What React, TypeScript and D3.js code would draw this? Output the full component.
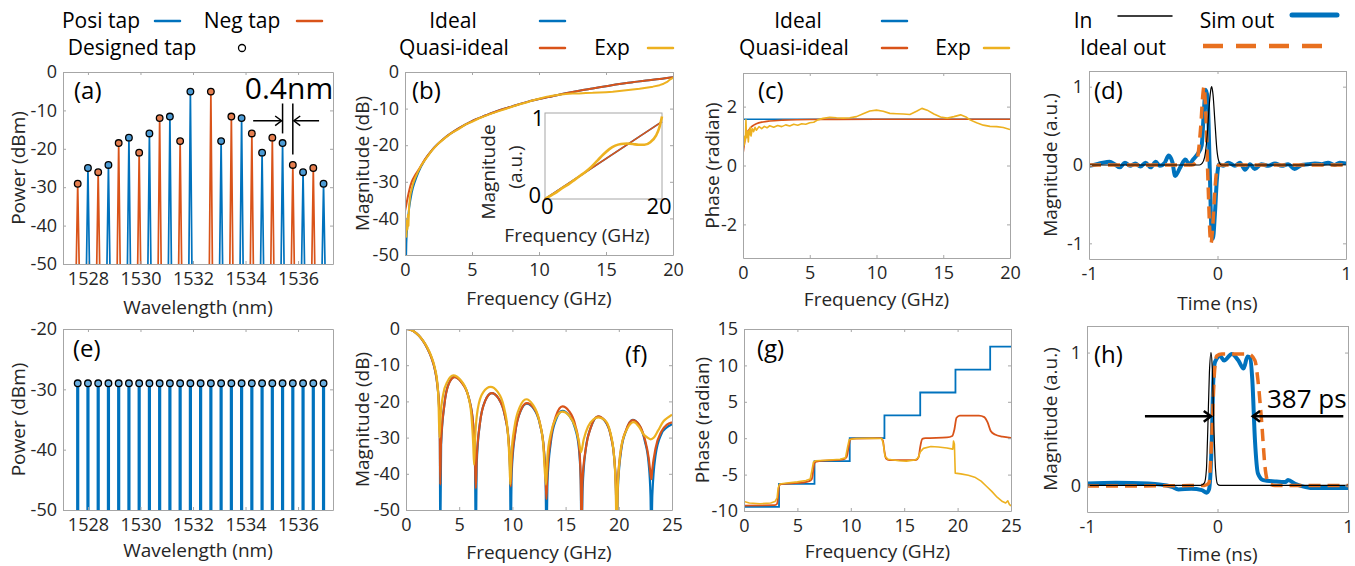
import React, { useRef, useEffect } from 'react';
import * as d3 from 'd3';

const BLUE = '#0072BD';
const ORANGE = '#D95319';
const YELLOW = '#EDB120';
const AXIS = '#A6A6A6';
const TEXT = '#262626';
const FONT = '"Open Sans", sans-serif';

// ---- (a) / (e) tap spectra ----
const tapWl = [1527.61, 1528.0, 1528.39, 1528.78, 1529.17, 1529.56, 1529.95, 1530.34, 1530.73, 1531.12, 1531.51, 1531.9, 1532.29,
  1532.68, 1533.07, 1533.46, 1533.85, 1534.24, 1534.63, 1535.02, 1535.41, 1535.8, 1536.19, 1536.58, 1536.97];
const tapPowerA = [-29.1, -25, -26.1, -24.2, -18.5, -17.1, -21, -16, -12, -11.6, -18, -5.1, NaN,
  -5.1, -18, -11.6, -12, -16, -21, -17.1, -18.5, -24.2, -26.1, -25, -29.1];
const tapSignA = [-1, 1, -1, 1, -1, 1, -1, 1, -1, 1, -1, 1, 0, -1, 1, -1, 1, -1, 1, -1, 1, -1, 1, -1, 1];
const tapPowerE = [-29, -29, -29, -29, -29, -29, -29, -29, -29, -29, -29, -29, -29,
  -29, -29, -29, -29, -29, -29, -29, -29, -29, -29, -29, -29];
const wlTicks = [1528, 1530, 1532, 1534, 1536];

// ---- (b) magnitude, differentiator ----
const bIdeal = [[0.03, -60], [0.1, -47], [0.2, -41], [0.3, -37.5], [0.5, -33], [0.75, -29.8], [1, -27.4], [1.5, -23.9], [2, -21.4],
  [3, -17.9], [4, -15.4], [5, -13.4], [6, -11.9], [7, -10.5], [8, -9.4], [9, -8.3], [10, -7.4], [11, -6.6], [12, -5.8], [13, -5.1],
  [14, -4.5], [15, -3.9], [16, -3.3], [17, -2.8], [18, -2.3], [19, -1.9], [20, -1.4]];
const bQuasi = [[0, -38], [0.1, -36.2], [0.2, -34.3], [0.35, -31.8], [0.5, -30], [0.75, -28.2], [1, -26.8], [1.5, -23.8], [2, -21.4],
  [3, -17.9], [4, -15.4], [5, -13.4], [6, -11.9], [7, -10.5], [8, -9.4], [9, -8.3], [10, -7.4], [11, -6.6], [12, -5.8], [13, -5.1],
  [14, -4.5], [15, -3.9], [16, -3.3], [17, -2.8], [18, -2.3], [19, -1.9], [20, -1.4]];
const bExp = [[0.02, -44], [0.06, -41], [0.1, -45], [0.14, -40], [0.18, -43], [0.22, -39], [0.26, -42], [0.3, -37], [0.35, -35],
  [0.4, -33.5], [0.5, -32], [0.6, -30.5], [0.75, -29], [1, -27], [1.25, -25.3], [1.5, -24], [2, -21.5], [2.5, -19.5], [3, -18],
  [3.5, -16.6], [4, -15.6], [4.5, -14.4], [5, -13.6], [5.5, -12.7], [6, -12], [6.5, -11.3], [7, -10.7], [7.5, -10.1], [8, -9.5],
  [8.5, -8.9], [9, -8.4], [9.5, -7.8], [10, -7.3], [10.5, -6.8], [11, -6.5], [11.5, -6.2], [12, -6], [12.5, -5.9], [13, -5.85],
  [13.5, -5.75], [14, -5.7], [14.5, -5.6], [15, -5.5], [15.5, -5.4], [16, -5.2], [16.5, -5], [17, -4.8], [17.5, -4.6], [18, -4.3],
  [18.5, -4], [19, -3.6], [19.3, -3.2], [19.6, -2.6], [19.8, -2], [20, -1.6]];
const insetQuasi = [[0, 0], [20, 0.9]];
const insetExp = [[0, 0], [1, 0.04], [2, 0.08], [3, 0.13], [4, 0.17], [5, 0.22], [6, 0.27], [7, 0.32], [8, 0.38], [9, 0.45],
  [10, 0.52], [11, 0.58], [12, 0.62], [13, 0.64], [14, 0.645], [15, 0.64], [16, 0.63], [17, 0.63], [18, 0.66], [19, 0.74],
  [19.5, 0.82], [20, 0.96]];

// ---- (c) phase ----
const cIdeal = [[0, 1.571], [20, 1.571]];
const cQuasi = [[0, 0.4], [0.05, 0.55], [0.1, 0.72], [0.2, 0.95], [0.3, 1.1], [0.45, 1.22], [0.6, 1.3], [0.8, 1.37], [1, 1.42],
  [1.5, 1.48], [2, 1.51], [3, 1.54], [4, 1.555], [5, 1.562], [7, 1.567], [10, 1.57], [20, 1.571]];
const cExp = [[0.02, 0.6], [0.06, 0.9], [0.1, 0.7], [0.14, 1.0], [0.18, 0.85], [0.22, 1.55], [0.25, 1.1], [0.3, 0.95], [0.35, 1.15],
  [0.4, 0.8], [0.45, 1.2], [0.5, 1.05], [0.55, 1.3], [0.6, 1.0], [0.7, 1.25], [0.8, 1.15], [0.9, 1.3], [1, 1.2], [1.2, 1.32],
  [1.4, 1.25], [1.6, 1.33], [1.8, 1.28], [2, 1.35], [2.3, 1.3], [2.6, 1.36], [2.9, 1.32], [3.2, 1.38], [3.5, 1.34], [3.8, 1.4],
  [4.1, 1.37], [4.4, 1.42], [4.7, 1.4], [5, 1.45], [5.3, 1.47], [5.6, 1.55], [6, 1.6], [6.5, 1.64], [7, 1.62], [7.5, 1.61],
  [8, 1.62], [8.5, 1.66], [9, 1.76], [9.5, 1.85], [10, 1.88], [10.5, 1.84], [11, 1.77], [11.5, 1.76], [12, 1.75], [12.5, 1.73],
  [13, 1.84], [13.4, 1.94], [13.8, 1.88], [14.3, 1.75], [14.8, 1.65], [15.3, 1.61], [15.8, 1.66], [16.3, 1.72], [16.7, 1.65],
  [17, 1.55], [17.5, 1.45], [18, 1.37], [18.5, 1.33], [19, 1.32], [19.5, 1.29], [20, 1.22]];

// ---- (d) time domain, differentiator ----
const dIn = [[-1, 0], [-0.14, 0], [-0.12, 0.02], [-0.1, 0.1], [-0.08, 0.38], [-0.065, 0.75], [-0.05, 0.98], [-0.045, 1],
  [-0.035, 0.9], [-0.02, 0.55], [-0.005, 0.2], [0.01, 0.05], [0.03, 0], [1, 0]];
const dIdeal = [[-1, 0], [-0.2, 0], [-0.17, 0.03], [-0.15, 0.15], [-0.13, 0.5], [-0.115, 0.88], [-0.105, 1], [-0.095, 0.8],
  [-0.085, 0.4], [-0.078, 0], [-0.07, -0.4], [-0.06, -0.85], [-0.05, -1], [-0.04, -0.85], [-0.025, -0.45], [-0.01, -0.12],
  [0.01, 0], [1, 0]];
const dSim = [[-1, -0.01], [-0.94, 0.01], [-0.89, 0.03], [-0.84, 0.04], [-0.8, 0.01], [-0.76, -0.03], [-0.72, 0.03], [-0.68, -0.01],
  [-0.64, 0.02], [-0.6, -0.02], [-0.56, 0.03], [-0.52, -0.03], [-0.48, 0.04], [-0.45, -0.01], [-0.41, 0.03], [-0.38, 0.12],
  [-0.35, 0.03], [-0.33, -0.14], [-0.29, -0.03], [-0.25, 0.07], [-0.22, 0.01], [-0.19, 0.07], [-0.155, 0.14], [-0.123, 0.25],
  [-0.108, 0.63], [-0.092, 0.96], [-0.077, 0.85], [-0.061, -0.01], [-0.046, -0.87], [-0.036, -0.94], [-0.02, -0.62],
  [-0.005, -0.19], [0.012, 0.01], [0.045, -0.01], [0.084, 0.03], [0.136, -0.01], [0.175, 0.03], [0.214, -0.06], [0.253, 0.01],
  [0.29, -0.05], [0.34, 0.01], [0.396, -0.01], [0.447, 0.02], [0.5, -0.01], [0.55, 0.01], [0.6, -0.05], [0.654, 0],
  [0.706, 0.01], [0.758, 0.02], [0.81, 0.01], [0.86, 0.03], [0.91, 0], [0.95, 0.03], [1, 0.02]];

// ---- (f) magnitude, integrator ----
const fIdeal = [[0, 0], [0.4, -0.2], [0.8, -0.8], [1.2, -1.8], [1.6, -3.3], [2.0, -5.3], [2.4, -8], [2.7, -11], [2.95, -15.5],
  [3.1, -21], [3.18, -28], [3.22, -60],
  [3.3, -32], [3.6, -21], [4.0, -15.2], [4.55, -13.2], [5.2, -14.6], [5.9, -19], [6.3, -26], [6.48, -36], [6.56, -60],
  [6.65, -37], [6.95, -26], [7.45, -19.8], [8.05, -17.7], [8.7, -19.2], [9.3, -24], [9.65, -31], [9.78, -39], [9.84, -60],
  [9.93, -40], [10.25, -29], [10.75, -22.8], [11.35, -20.6], [12.0, -22], [12.6, -26.5], [12.95, -33], [13.12, -42], [13.2, -60],
  [13.3, -42], [13.6, -31.5], [14.1, -25], [14.7, -22.6], [15.3, -23.8], [15.9, -27.5], [16.25, -33], [16.42, -42], [16.5, -60],
  [16.6, -44], [16.9, -33], [17.4, -27], [18.05, -24.2], [18.7, -25.4], [19.25, -29.5], [19.58, -36], [19.73, -44], [19.8, -60],
  [19.9, -45], [20.2, -34], [20.7, -28], [21.3, -25.1], [21.9, -26.5], [22.45, -31], [22.8, -37], [22.98, -46], [23.06, -60],
  [23.15, -46], [23.45, -35], [24.0, -29], [24.5, -27.2], [25, -26.3]];
const fQuasi = [[0, 0], [0.4, -0.2], [0.8, -0.8], [1.2, -1.8], [1.6, -3.3], [2.0, -5.3], [2.4, -8], [2.7, -11], [2.95, -15.5],
  [3.1, -21], [3.18, -30], [3.22, -43],
  [3.28, -32], [3.6, -21], [4.0, -15.3], [4.55, -13.3], [5.2, -14.7], [5.9, -19], [6.3, -26], [6.48, -35], [6.56, -44],
  [6.64, -36], [6.95, -26], [7.45, -19.8], [8.05, -17.7], [8.7, -19.2], [9.3, -24], [9.65, -31], [9.78, -38], [9.84, -43.5],
  [9.92, -38], [10.25, -28.8], [10.75, -22.7], [11.35, -20.5], [12.0, -21.8], [12.6, -26.3], [12.95, -33], [13.12, -41], [13.2, -47],
  [13.28, -40], [13.6, -30.5], [14.1, -24], [14.7, -21.4], [15.3, -22.6], [15.9, -26.5], [16.25, -32], [16.42, -41], [16.5, -55],
  [16.58, -42], [16.9, -33], [17.4, -26.9], [18.05, -24.1], [18.7, -25.3], [19.25, -29.5], [19.58, -36], [19.73, -44], [19.8, -55],
  [19.88, -44], [20.2, -33.5], [20.7, -27.8], [21.3, -25.2], [21.9, -26.4], [22.45, -30.5], [22.8, -35.5], [22.98, -40], [23.06, -41.5],
  [23.14, -39], [23.45, -33], [24.0, -28.3], [24.5, -26.5], [25, -25.8]];
const fExp = [[0, 0], [0.4, -0.2], [0.8, -0.8], [1.2, -1.8], [1.6, -3.2], [2.0, -5.1], [2.4, -7.7], [2.7, -10.6], [2.95, -15],
  [3.05, -19.5], [3.15, -30], [3.25, -24], [3.5, -18], [3.9, -14.5], [4.45, -12.8], [5.1, -14], [5.8, -18], [6.15, -24],
  [6.32, -32], [6.4, -37.5], [6.5, -30], [6.75, -22], [7.25, -17.5], [7.95, -16], [8.6, -17.3], [9.2, -21.5], [9.55, -28],
  [9.72, -36], [9.8, -43], [9.9, -35], [10.2, -27], [10.7, -21.5], [11.3, -19.4], [11.9, -20.8], [12.5, -25], [12.9, -32],
  [13.15, -43], [13.3, -35], [13.6, -29], [14.1, -24.5], [14.7, -22.8], [15.3, -23.8], [15.9, -27], [16.25, -31], [16.45, -34],
  [16.7, -30.5], [17.1, -27], [17.6, -25], [18.1, -24.4], [18.7, -25.2], [19.2, -28.5], [19.55, -35], [19.72, -45], [19.8, -60],
  [19.9, -44], [20.2, -33], [20.8, -27.5], [21.4, -25.7], [21.9, -27], [22.3, -29], [22.7, -30], [23.0, -30.5], [23.3, -30],
  [23.7, -28], [24.2, -25.5], [24.6, -24.5], [25, -23.7]];

// ---- (g) phase, integrator ----
const gIdeal = [[0, -9.42], [3.28, -6.28], [6.6, -3.14], [9.9, 0], [13.15, 3.14], [16.5, 6.28], [19.8, 9.42], [23.05, 12.57], [25, 12.57]];
const gQuasi = [[0, -9.25], [2.9, -9.2], [3.1, -9.0], [3.2, -7.8], [3.3, -6.5], [3.5, -6.3], [4.5, -6.2], [5.5, -6.1], [6.1, -5.9],
  [6.35, -5.6], [6.5, -4.3], [6.6, -3.4], [6.8, -3.2], [8, -3.05], [9.3, -2.9], [9.6, -2.6], [9.8, -1.2], [9.95, -0.2], [10.2, -0.05],
  [12.8, 0], [13.0, -0.3], [13.15, -1.8], [13.3, -2.8], [13.6, -3.0], [16.1, -3.0], [16.35, -2.6], [16.5, -1.2], [16.7, -0.1],
  [17, 0], [19, 0.1], [19.5, 0.3], [19.7, 1.2], [19.9, 2.8], [20.2, 3.1], [22, 3.1], [22.5, 2.9], [22.8, 2.2], [23.1, 1.0],
  [23.5, 0.5], [24.2, 0.2], [25, 0.05]];
const gExp = [[0, -8.7], [0.5, -8.9], [1.5, -9.0], [2.5, -8.9], [2.9, -8.7], [3.1, -8.2], [3.2, -6.8], [3.35, -6.3], [4, -6.15],
  [5, -6.0], [5.8, -5.8], [6.2, -5.6], [6.35, -4.5], [6.5, -3.3], [6.7, -3.1], [8, -3.0], [9.0, -2.9], [9.5, -2.7], [9.7, -1.2],
  [9.85, -0.2], [10.5, -0.05], [12, 0], [12.9, -0.05], [13.05, -0.8], [13.2, -2.5], [13.5, -2.9], [14.5, -3.1], [15.2, -3.15],
  [16, -3.0], [16.3, -2.7], [16.5, -1.9], [16.8, -1.4], [17.5, -1.15], [18.2, -1.2], [19, -1.35], [19.55, -1.5], [19.62, -0.4],
  [19.7, -0.8], [19.78, -4.8], [20.3, -4.9], [21, -5.1], [21.6, -5.35], [22.2, -5.9], [22.7, -6.6], [23.2, -7.3], [23.7, -8.1],
  [24.2, -8.7], [24.5, -8.9], [24.7, -8.6], [24.85, -9.1], [25, -9.3]];

// ---- (h) time domain, integrator ----
const hIn = [[-1, 0], [-0.13, 0], [-0.1, 0.02], [-0.085, 0.12], [-0.075, 0.4], [-0.062, 0.85], [-0.05, 1], [-0.04, 0.88],
  [-0.028, 0.45], [-0.015, 0.12], [0, 0.01], [0.02, 0], [1, 0]];
const hIdeal = [[-1, -0.005], [-0.1, 0], [-0.065, 0.02], [-0.045, 0.34], [-0.024, 0.84], [-0.006, 0.975], [0.032, 0.99],
  [0.236, 0.99], [0.287, 0.94], [0.31, 0.79], [0.339, 0.47], [0.364, 0.14], [0.39, 0.02], [0.44, 0], [1, 0]];
const hSim = [[-1, 0.015], [-0.78, 0.02], [-0.53, 0.015], [-0.35, -0.01], [-0.3, -0.03], [-0.2, -0.025], [-0.12, -0.035],
  [-0.083, -0.055], [-0.065, -0.03], [-0.045, 0.3], [-0.032, 0.79], [-0.019, 0.93], [0.02, 0.975], [0.05, 0.94], [0.11, 0.99],
  [0.16, 0.94], [0.2, 0.88], [0.23, 0.97], [0.25, 0.96], [0.267, 0.79], [0.287, 0.34], [0.31, 0.09], [0.35, 0.04], [0.44, 0.03],
  [0.52, 0.025], [0.54, 0.04], [0.6, 0.01], [0.75, -0.02], [1, -0.02]];

function addAxes(svg: any, o: any) {
  const x = d3.scaleLinear().domain(o.xd).range([o.l, o.r]);
  const y = d3.scaleLinear().domain(o.yd).range([o.b, o.t]);
  svg.append('clipPath').attr('id', o.id).append('rect')
    .attr('x', o.l).attr('y', o.t).attr('width', o.r - o.l).attr('height', o.b - o.t);
  svg.append('rect').attr('x', o.l).attr('y', o.t).attr('width', o.r - o.l).attr('height', o.b - o.t).attr('fill', '#fff');
  const data = svg.append('g').attr('clip-path', `url(#${o.id})`);
  const fmt = (d: any) => String(d);
  const none = () => '';
  const style = (g: any) => {
    g.select('.domain').attr('stroke', AXIS);
    g.selectAll('.tick line').attr('stroke', AXIS);
    g.selectAll('.tick text').attr('fill', TEXT).style('font-size', '18px').style('font-family', FONT);
  };
  const ax = svg.append('g');
  ax.append('g').attr('transform', `translate(0,${o.b})`)
    .call(d3.axisBottom(x).tickValues(o.xt).tickFormat(fmt).tickSize(-3).tickSizeOuter(0).tickPadding(8)).call(style);
  ax.append('g').attr('transform', `translate(0,${o.t})`)
    .call(d3.axisTop(x).tickValues(o.xt).tickFormat(none).tickSize(-3).tickSizeOuter(0)).call(style);
  ax.append('g').attr('transform', `translate(${o.l},0)`)
    .call(d3.axisLeft(y).tickValues(o.yt).tickFormat(fmt).tickSize(-3).tickSizeOuter(0).tickPadding(6)).call(style);
  ax.append('g').attr('transform', `translate(${o.r},0)`)
    .call(d3.axisRight(y).tickValues(o.yt).tickFormat(none).tickSize(-3).tickSizeOuter(0)).call(style);
  svg.append('text').attr('x', (o.l + o.r) / 2).attr('y', o.xly).attr('dy', '0.35em')
    .attr('text-anchor', 'middle').attr('fill', TEXT).style('font-size', '19px').style('font-family', FONT).text(o.xl);
  svg.append('text').attr('transform', `translate(${o.ylx},${(o.t + o.b) / 2}) rotate(-90)`).attr('dy', '0.35em')
    .attr('text-anchor', 'middle').attr('fill', TEXT).style('font-size', '19px').style('font-family', FONT).text(o.yl);
  svg.append('text').attr('x', o.px).attr('y', o.py).attr('fill', '#000')
    .style('font-size', '24px').style('font-family', FONT).text(o.tag);
  return { x, y, data };
}

function curve(g: any, pts: any, x: any, y: any, color: string, w: number, smooth = false, dash = '') {
  const gen = d3.line<any>().x((d) => x(d[0])).y((d) => y(d[1])).curve(smooth ? d3.curveMonotoneX : d3.curveLinear);
  const p = g.append('path').attr('d', gen(pts)).attr('fill', 'none').attr('stroke', color)
    .attr('stroke-width', w).attr('stroke-linejoin', 'round');
  if (dash) p.attr('stroke-dasharray', dash);
  return p;
}

function label(svg: any, x: number, y: number, txt: string, size = 21, anchor = 'middle') {
  svg.append('text').attr('x', x).attr('y', y).attr('text-anchor', anchor).attr('fill', '#000')
    .style('font-size', `${size}px`).style('font-family', FONT).text(txt);
}

function seg(svg: any, x1: number, x2: number, y: number, color: string, w: number, dash = '') {
  const l = svg.append('line').attr('x1', x1).attr('x2', x2).attr('y1', y).attr('y2', y)
    .attr('stroke', color).attr('stroke-width', w).attr('stroke-linecap', 'round');
  if (dash) l.attr('stroke-dasharray', dash).attr('stroke-linecap', 'butt');
}

function arrow(svg: any, x1: number, y1: number, x2: number, y2: number, head: number, w: number) {
  svg.append('line').attr('x1', x1).attr('y1', y1).attr('x2', x2).attr('y2', y2).attr('stroke', '#000').attr('stroke-width', w);
  const a = Math.atan2(y2 - y1, x2 - x1);
  const p1 = [x2 + head * Math.cos(a + 2.5), y2 + head * Math.sin(a + 2.5)];
  const p2 = [x2 + head * Math.cos(a - 2.5), y2 + head * Math.sin(a - 2.5)];
  svg.append('path').attr('d', `M${p1[0]},${p1[1]}L${x2},${y2}L${p2[0]},${p2[1]}`)
    .attr('fill', 'none').attr('stroke', '#000').attr('stroke-width', w);
}

const App = () => {
  const svgRef = useRef<SVGSVGElement>(null);

  useEffect(() => {
    d3.select(svgRef.current).selectAll('*').remove();
    const svg = d3.select(svgRef.current);
    const R1 = 28;
    const R2 = 55;

    // (a)
    const A = addAxes(svg, { id: 'ca', l: 63, r: 333, t: 72, b: 264, xd: [1527.05, 1537.33], yd: [-50, 0],
      xt: wlTicks, yt: [-50, -40, -30, -20, -10, 0], xl: 'Wavelength (nm)', yl: 'Power (dBm)', xly: 307, ylx: 18,
      tag: '(a)', px: 74, py: 99 });
    tapWl.forEach((wl, i) => {
      if (!tapSignA[i]) return;
      const c = tapSignA[i] > 0 ? BLUE : ORANGE;
      A.data.append('path')
        .attr('d', `M${A.x(wl - 0.06)},${A.y(-52)}L${A.x(wl)},${A.y(tapPowerA[i])}L${A.x(wl + 0.06)},${A.y(-52)}`)
        .attr('fill', 'none').attr('stroke', c).attr('stroke-width', 1.7);
    });
    tapWl.forEach((wl, i) => {
      if (!tapSignA[i]) return;
      svg.append('circle').attr('cx', A.x(wl)).attr('cy', A.y(tapPowerA[i])).attr('r', 3.3)
        .attr('fill', tapSignA[i] > 0 ? '#4d9bd4' : '#e57f50').attr('stroke', '#000').attr('stroke-width', 1.3);
    });
    label(svg, 289, 99, '0.4nm', 30);
    svg.append('line').attr('x1', A.x(tapWl[20])).attr('x2', A.x(tapWl[20])).attr('y1', A.y(-8.2)).attr('y2', A.y(-16))
      .attr('stroke', '#000').attr('stroke-width', 1.5);
    svg.append('line').attr('x1', A.x(tapWl[21])).attr('x2', A.x(tapWl[21])).attr('y1', A.y(-8.2)).attr('y2', A.y(-21.5))
      .attr('stroke', '#000').attr('stroke-width', 1.5);
    arrow(svg, A.x(1534.29), A.y(-12.7), A.x(tapWl[20]) - 1, A.y(-12.7), 8, 1.5);
    arrow(svg, A.x(1536.8), A.y(-12.7), A.x(tapWl[21]) + 1, A.y(-12.7), 8, 1.5);
    label(svg, 101, R1, 'Posi tap');
    seg(svg, 155, 180, 21, BLUE, 2.5);
    label(svg, 242, R1, 'Neg tap');
    seg(svg, 297, 322, 21, ORANGE, 2.5);
    label(svg, 132, R2, 'Designed tap');
    svg.append('circle').attr('cx', 242).attr('cy', 48).attr('r', 3.5).attr('fill', '#fff').attr('stroke', '#000').attr('stroke-width', 1.3);

    // (b)
    const B = addAxes(svg, { id: 'cb', l: 405, r: 673, t: 72, b: 255, xd: [0, 20], yd: [-50, 0],
      xt: [0, 5, 10, 15, 20], yt: [-50, -40, -30, -20, -10, 0], xl: 'Frequency (GHz)', yl: 'Magnitude (dB)', xly: 298, ylx: 362,
      tag: '(b)', px: 412, py: 99 });
    curve(B.data, bIdeal, B.x, B.y, BLUE, 2, true);
    curve(B.data, bQuasi, B.x, B.y, ORANGE, 2, true);
    curve(B.data, bExp, B.x, B.y, YELLOW, 2);
    const IB = { l: 545, r: 662, t: 113, b: 199 };
    const ix = d3.scaleLinear().domain([0, 20]).range([IB.l, IB.r]);
    const iy = d3.scaleLinear().domain([0, 1]).range([IB.b, IB.t]);
    svg.append('rect').attr('x', IB.l).attr('y', IB.t).attr('width', IB.r - IB.l).attr('height', IB.b - IB.t)
      .attr('fill', '#fff').attr('stroke', AXIS);
    curve(svg, insetQuasi, ix, iy, BLUE, 1.5);
    curve(svg, insetQuasi, ix, iy, ORANGE, 1.5);
    curve(svg, insetExp, ix, iy, YELLOW, 2.6, true);
    label(svg, 538, 126, '1', 22);
    label(svg, 541, 203, '0', 22, 'end');
    label(svg, 541, 214, '0', 22, 'start');
    label(svg, 659, 214, '20', 22);
    svg.append('text').attr('transform', 'translate(488,172) rotate(-90)').attr('dy', '0.35em').attr('text-anchor', 'middle')
      .attr('fill', TEXT).style('font-size', '19px').style('font-family', FONT).text('Magnitude');
    svg.append('text').attr('transform', 'translate(515,167) rotate(-90)').attr('dy', '0.35em').attr('text-anchor', 'middle')
      .attr('fill', TEXT).style('font-size', '19px').style('font-family', FONT).text('(a.u.)');
    svg.append('text').attr('x', 577).attr('y', 235).attr('dy', '0.35em').attr('text-anchor', 'middle')
      .attr('fill', TEXT).style('font-size', '19px').style('font-family', FONT).text('Frequency (GHz)');
    label(svg, 453, R1, 'Ideal');
    seg(svg, 540, 565, 21, BLUE, 2.5);
    label(svg, 454, R2, 'Quasi-ideal');
    seg(svg, 540, 565, 48, ORANGE, 2.5);
    label(svg, 612, R2, 'Exp');
    seg(svg, 648, 673, 48, YELLOW, 2.5);

    // (c)
    const C = addAxes(svg, { id: 'cc', l: 743, r: 1010, t: 73, b: 258, xd: [0, 20], yd: [-Math.PI, Math.PI],
      xt: [0, 5, 10, 15, 20], yt: [-2, 0, 2], xl: 'Frequency (GHz)', yl: 'Phase (radian)', xly: 299, ylx: 712,
      tag: '(c)', px: 758, py: 99 });
    curve(C.data, cIdeal, C.x, C.y, BLUE, 1.6);
    curve(C.data, cQuasi, C.x, C.y, ORANGE, 1.6, true);
    curve(C.data, cExp, C.x, C.y, YELLOW, 1.6);
    label(svg, 798, R1, 'Ideal');
    seg(svg, 882, 907, 21, BLUE, 2.5);
    label(svg, 794, R2, 'Quasi-ideal');
    seg(svg, 882, 907, 48, ORANGE, 2.5);
    label(svg, 953, R2, 'Exp');
    seg(svg, 984, 1009, 48, YELLOW, 2.5);

    // (d)
    const D = addAxes(svg, { id: 'cd', l: 1089, r: 1346, t: 71, b: 259, xd: [-1, 1], yd: [-1.2, 1.2],
      xt: [-1, 0, 1], yt: [-1, 0, 1], xl: 'Time (ns)', yl: 'Magnitude (a.u.)', xly: 303, ylx: 1050,
      tag: '(d)', px: 1094, py: 99 });
    curve(D.data, dSim, D.x, D.y, BLUE, 4, true);
    curve(D.data, dIdeal, D.x, D.y, '#E8701F', 3.5, true, '12,7');
    curve(D.data, dIn, D.x, D.y, '#000', 1.2, true);
    label(svg, 1083, R1, 'In');
    seg(svg, 1118, 1172, 16, '#000', 1.5);
    label(svg, 1237, R1, 'Sim out');
    seg(svg, 1292, 1337, 15, BLUE, 5);
    label(svg, 1123, R2, 'Ideal out');
    seg(svg, 1203, 1323, 46, '#E8701F', 4.5, '20,13');

    // (e)
    const E = addAxes(svg, { id: 'ce', l: 63, r: 333, t: 329, b: 510, xd: [1527.05, 1537.33], yd: [-50, -20],
      xt: wlTicks, yt: [-50, -40, -30, -20], xl: 'Wavelength (nm)', yl: 'Power (dBm)', xly: 550, ylx: 18,
      tag: '(e)', px: 73, py: 357 });
    tapWl.forEach((wl, i) => {
      E.data.append('line').attr('x1', E.x(wl)).attr('x2', E.x(wl)).attr('y1', E.y(-52)).attr('y2', E.y(tapPowerE[i]))
        .attr('stroke', BLUE).attr('stroke-width', 3.2);
    });
    tapWl.forEach((wl, i) => {
      svg.append('circle').attr('cx', E.x(wl)).attr('cy', E.y(tapPowerE[i])).attr('r', 3.3)
        .attr('fill', '#6aaee0').attr('stroke', '#000').attr('stroke-width', 1.3);
    });

    // (f)
    const F = addAxes(svg, { id: 'cf', l: 406, r: 672, t: 329, b: 510, xd: [0, 25], yd: [-50, 0],
      xt: [0, 5, 10, 15, 20, 25], yt: [-50, -40, -30, -20, -10, 0], xl: 'Frequency (GHz)', yl: 'Magnitude (dB)', xly: 552, ylx: 362,
      tag: '(f)', px: 625, py: 363 });
    curve(F.data, fIdeal, F.x, F.y, BLUE, 2.2, true);
    curve(F.data, fQuasi, F.x, F.y, ORANGE, 2.2, true);
    curve(F.data, fExp, F.x, F.y, YELLOW, 2.2, true);

    // (g)
    const G = addAxes(svg, { id: 'cg', l: 744, r: 1011, t: 329, b: 511, xd: [0, 25], yd: [-10, 15],
      xt: [0, 5, 10, 15, 20, 25], yt: [-10, -5, 0, 5, 10, 15], xl: 'Frequency (GHz)', yl: 'Phase (radian)', xly: 551, ylx: 702,
      tag: '(g)', px: 757, py: 357 });
    G.data.append('path')
      .attr('d', d3.line<any>().x((d) => G.x(d[0])).y((d) => G.y(d[1])).curve(d3.curveStepAfter)(gIdeal))
      .attr('fill', 'none').attr('stroke', BLUE).attr('stroke-width', 1.8);
    curve(G.data, gQuasi, G.x, G.y, ORANGE, 1.8, true);
    curve(G.data, gExp, G.x, G.y, YELLOW, 1.6);

    // (h)
    const H = addAxes(svg, { id: 'ch', l: 1087, r: 1348, t: 326, b: 512, xd: [-1, 1], yd: [-0.2, 1.2],
      xt: [-1, 0, 1], yt: [0, 1], xl: 'Time (ns)', yl: 'Magnitude (a.u.)', xly: 554, ylx: 1050,
      tag: '(h)', px: 1094, py: 363 });
    curve(H.data, hSim, H.x, H.y, BLUE, 4, true);
    curve(H.data, hIdeal, H.x, H.y, '#E8701F', 3.5, true, '12,7');
    curve(H.data, hIn, H.x, H.y, '#000', 1.2, true);
    arrow(svg, H.x(-0.556), H.y(0.52), H.x(-0.05), H.y(0.52), 9, 2.5);
    arrow(svg, H.x(0.964), H.y(0.52), H.x(0.27), H.y(0.52), 9, 2.5);
    label(svg, 1267, 408, '387 ps', 26, 'start');
  }, []);

  return (
    <svg ref={svgRef} width={1355} height={566} style={{ position: 'absolute', left: 0, top: 0, background: '#fff' }} />
  );
};

export default App;
